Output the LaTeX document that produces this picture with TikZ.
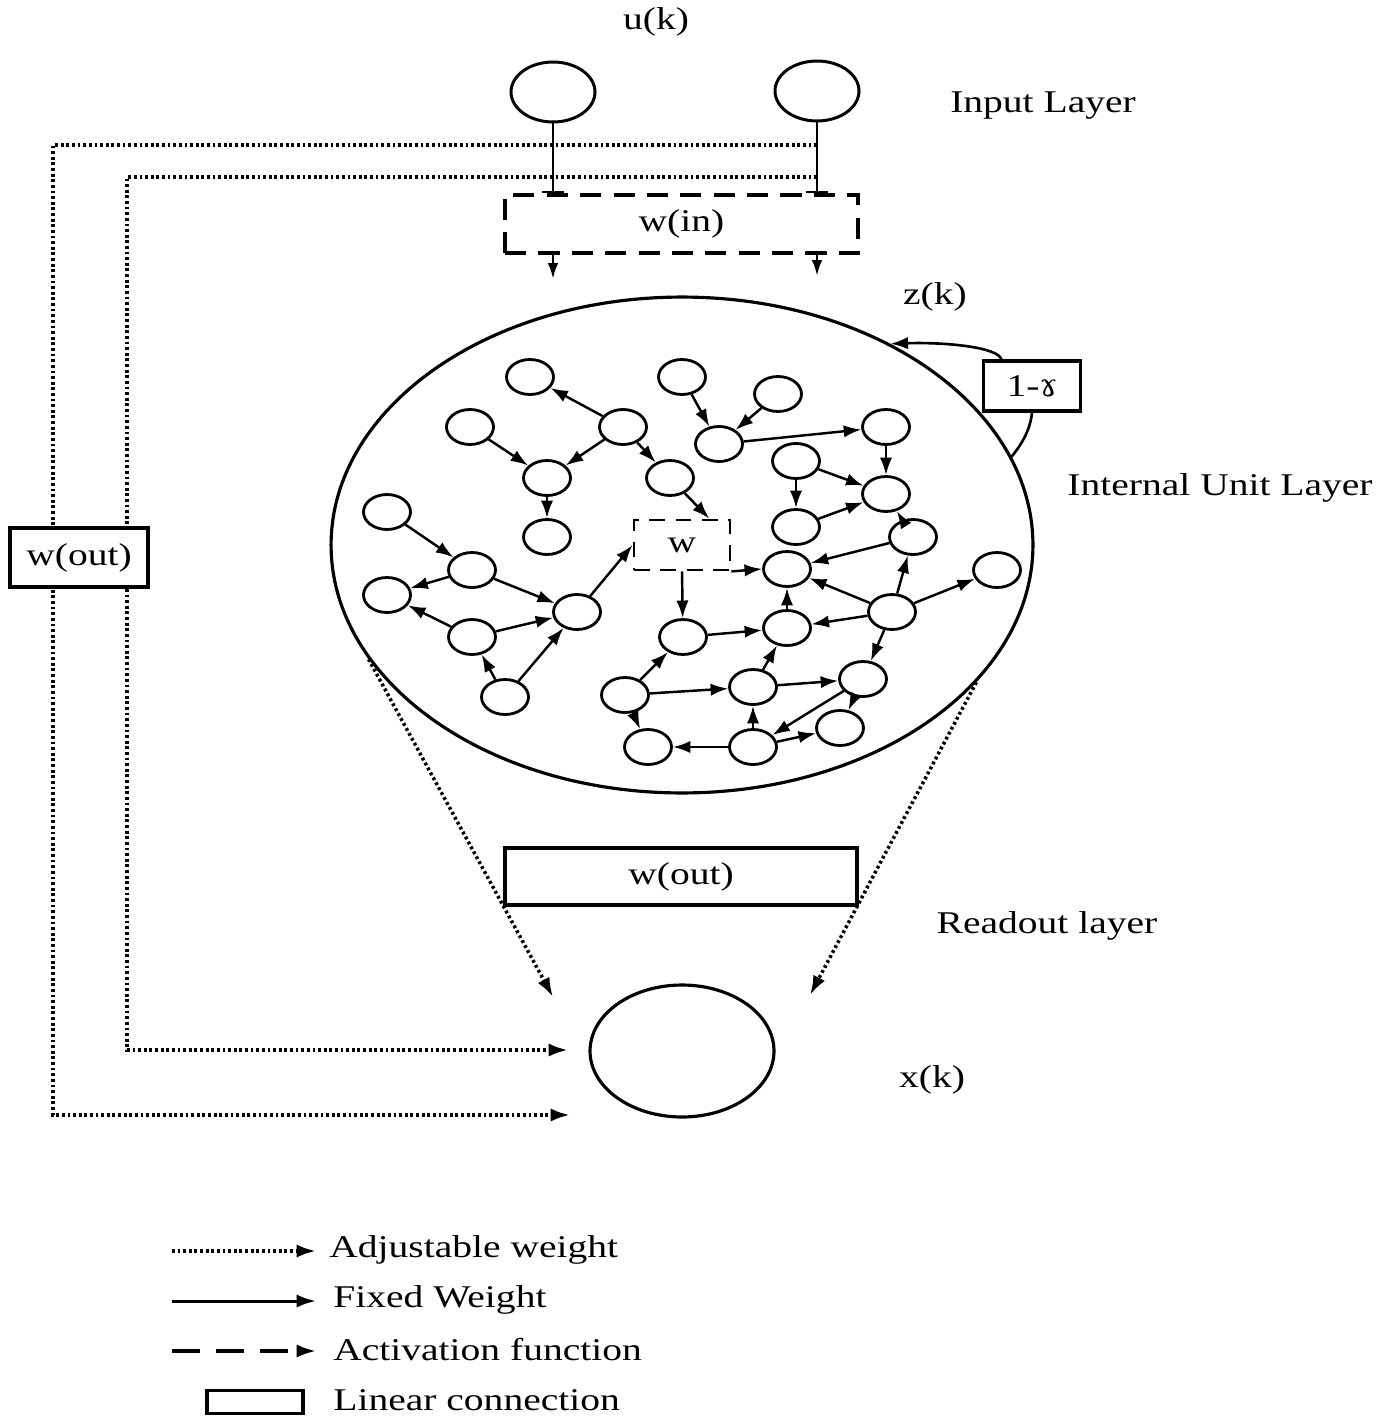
\documentclass[tikz,border=0pt]{standalone}
\usepackage{fontspec}
\setmainfont{Liberation Serif}[FakeStretch=1.25]
\newfontfamily\ipafont{DejaVu Serif}
\usetikzlibrary{arrows.meta,shapes.geometric,calc}
\begin{document}
\begin{tikzpicture}[x=0.02cm,y=-0.02cm,
  txt/.style={font=\fontsize{18}{21}\selectfont, inner sep=0pt},
  unit/.style={ellipse, draw, line width=1.6pt, minimum width=0.94cm, minimum height=0.7cm, inner sep=0pt},
  edge/.style={line width=1.4pt, -{Latex[length=10pt,width=7pt]}},
  adj/.style={line width=2pt, dash pattern=on 1.6pt off 1.6pt, line join=miter},
  adjarrow/.style={adj, -{Latex[length=11pt,width=7.5pt]}},
  lbox/.style={draw, line width=1.8pt, fill=white, inner sep=0pt, txt},
  dbox/.style={draw, line width=1.8pt, dash pattern=on 12pt off 7pt, inner sep=0pt, txt},
  inp/.style={ellipse, draw, line width=1.7pt, minimum width=1.68cm, minimum height=1.2cm, inner sep=0pt}
]
\useasboundingbox (0,0) rectangle (1395,1416);

% ---------- input layer ----------
\node[txt] (lu) at (656,22) {u(k)};
\node[txt] (linp) at (1043,106) {Input Layer};
\node[inp] (u1) at (553,92) {};
\node[inp] (u2) at (817,91) {};
\node[dbox, minimum width=7.06cm, minimum height=1.16cm] (win) at (681.5,224) {w(in)};
\draw[line width=1.6pt, -{Bar[width=12pt,line width=1.6pt]}] (u1.south) -- (u1.south |- win.north);
\draw[line width=1.6pt, -{Bar[width=12pt,line width=1.6pt]}] (u2.south) -- (u2.south |- win.north);
\coordinate (a1) at (553,279);
\coordinate (a2) at (817,276);
\draw[line width=1.5pt, -{Latex[length=9pt,width=6pt]}] (win.south -| u1.south) -- (a1);
\draw[line width=1.5pt, -{Latex[length=9pt,width=6pt]}] (win.south -| u2.south) -- (a2);

% ---------- output feedback dotted paths ----------
\coordinate (t1) at (817,145);
\coordinate (t2) at (817,177);
\coordinate (o1) at (570,1115);
\coordinate (o2) at (568,1050);
\draw[adjarrow] (t1) -- (53,145) -- (53,1115) -- (o1);
\draw[adjarrow] (t2) -- (127,177) -- (127,1050) -- (o2);
\node[lbox, minimum width=2.76cm, minimum height=1.18cm] (wout1) at (79,557.5) {w(out)};

% ---------- reservoir ----------
\node[ellipse, draw, line width=1.8pt, minimum width=14.04cm, minimum height=9.92cm, inner sep=0pt] (res) at (682,545) {};
\node[txt] (lz) at (935,297) {z(k)};
\node[txt] (lint) at (1220,488) {Internal Unit Layer};
\node[lbox, minimum width=1.94cm, minimum height=1.0cm] (gam) at (1032,386) {1-{\ipafont ɤ}};
\draw[line width=1.5pt, -{Latex[length=10pt,width=7pt]}] (gam.139) .. controls (998,347) and (945,342) .. (res.44);
\draw[line width=1.5pt] (gam.south) .. controls (1030,432) and (1020,446) .. (res.15.6);

% internal units
\node[unit] (n1) at (530,377) {};
\node[unit] (n2) at (470,427) {};
\node[unit] (n3) at (623,427) {};
\node[unit] (n4) at (547,478) {};
\node[unit] (n5) at (547,537) {};
\node[unit] (n6) at (670,478) {};
\node[unit] (n7) at (387,512) {};
\node[unit] (n8) at (472,570) {};
\node[unit] (n9) at (387,595) {};
\node[unit] (n10) at (577,612) {};
\node[unit] (n11) at (472,637) {};
\node[unit] (n12) at (505,697) {};
\node[unit] (n13) at (682,377) {};
\node[unit] (n14) at (778,394) {};
\node[unit] (n15) at (719,444) {};
\node[unit] (n16) at (886,427) {};
\node[unit] (n17) at (796,461) {};
\node[unit] (n18) at (886,494) {};
\node[unit] (n19) at (796,527) {};
\node[unit] (n20) at (913,537) {};
\node[unit] (n21) at (787,569) {};
\node[unit] (n22) at (787,628) {};
\node[unit] (n23) at (683,637) {};
\node[unit] (n24) at (892,612) {};
\node[unit] (n25) at (997,570) {};
\node[unit] (n26) at (625,695) {};
\node[unit] (n27) at (753,687) {};
\node[unit] (n28) at (863,679) {};
\node[unit] (n29) at (648,747) {};
\node[unit] (n30) at (753,747) {};
\node[unit] (n31) at (840,728) {};
\node[draw, line width=1.6pt, dash pattern=on 9pt off 6pt, inner sep=0pt, txt, minimum width=1.92cm, minimum height=1.0cm] (W) at (682,545) {w};

\foreach \a/\b in {n3/n1, n2/n4, n3/n4, n4/n5, n3/n6,
  n7/n8, n8/n9, n8/n10, n11/n9, n11/n10, n12/n11, n12/n10,
  n13/n15, n14/n15, n15/n16, n16/n18, n17/n18, n17/n19, n19/n18, n20/n18, n20/n21,
  n23/n22, n22/n21, n24/n21, n24/n22, n24/n20, n24/n25, n24/n28,
  n26/n23, n26/n27, n26/n29, n27/n22, n27/n28, n30/n27, n30/n29, n30/n31, n28/n30, n28/n31}
  \draw[edge] (\a) -- (\b);
\draw[edge] (n6) -- (W.44);
\draw[edge] (n10) -- (W.west);
\draw[edge] (W.south east) -- (n21.west);
\draw[edge] (W.south) -- (n23);

% ---------- readout ----------
\node[lbox, minimum width=7.04cm, minimum height=1.14cm] (wout2) at (681,876.5) {w(out)};
\node[txt] (lread) at (1047,926) {Readout layer};
\node[ellipse, draw, line width=1.8pt, minimum width=3.68cm, minimum height=2.64cm, inner sep=0pt] (out) at (682,1051) {};
\node[txt] (lx) at (932,1080) {x(k)};
\coordinate (d1) at (553,997);
\coordinate (d2) at (810,995);
\draw[adjarrow] (res.200.6) -- (d1);
\draw[adjarrow] (res.335.4) -- (d2);

% ---------- legend ----------
\coordinate (g1s) at (172,1251); \coordinate (g1e) at (316,1251);
\coordinate (g2s) at (172,1301); \coordinate (g2e) at (316,1301);
\coordinate (g3s) at (172,1351); \coordinate (g3e) at (316,1351);
\draw[adjarrow] (g1s) -- (g1e);
\draw[line width=1.7pt, -{Latex[length=11pt,width=7.5pt]}] (g2s) -- (g2e);
\draw[line width=1.8pt, dash pattern=on 16pt off 9pt, -{Latex[length=11pt,width=7.5pt]}] (g3s) -- (g3e);
\node[draw, line width=1.8pt, minimum width=1.92cm, minimum height=0.46cm, inner sep=0pt] (g4) at (255,1402) {};
\node[txt, anchor=west] (t1l) at (329,1250) {Adjustable weight};
\node[txt, anchor=west] (t2l) at (333,1300) {Fixed Weight};
\node[txt, anchor=west] (t3l) at (333,1350) {Activation function};
\node[txt, anchor=west] (t4l) at (333,1400) {Linear connection};
\end{tikzpicture}
\end{document}
